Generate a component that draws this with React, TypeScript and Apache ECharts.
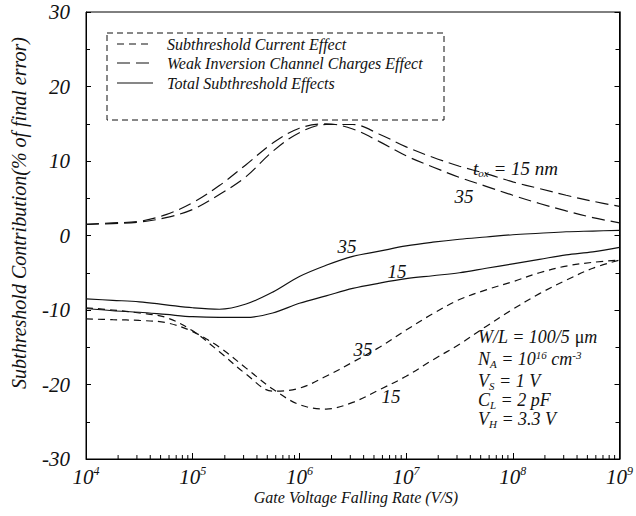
import { useEffect, useRef } from 'react';
import * as echarts from 'echarts';

// x positions (exponent of gate voltage falling rate, V/S)
const rateExponents = [4, 4.25, 4.5, 4.75, 5, 5.25, 5.5, 5.75, 6, 6.25, 6.5, 6.75, 7, 7.25, 7.5, 7.75, 8, 8.25, 8.5, 8.75, 9];

// Weak inversion channel charges effect (long dash)
const weakInv15 = [1.5, 1.6, 1.8, 2.4, 3.5, 5.5, 7.9, 11.3, 13.8, 14.9, 14.9, 13.6, 11.9, 10.5, 9.3, 8.3, 7.2, 6.3, 5.4, 4.6, 3.9];
const weakInv35 = [1.5, 1.7, 1.9, 2.8, 4.4, 6.7, 9.5, 12.4, 14.4, 15.0, 14.3, 12.6, 10.7, 9.2, 7.8, 6.6, 5.4, 4.3, 3.3, 2.4, 1.7];

// Subthreshold current effect (short dash)
const subCur15 = [-11.2, -11.3, -11.4, -11.7, -12.9, -15.0, -17.8, -20.6, -22.7, -23.3, -22.4, -20.7, -18.9, -16.7, -14.6, -12.2, -9.9, -7.8, -6.0, -4.4, -3.3];
const subCur35 = [-9.7, -10.0, -10.4, -11.0, -12.8, -15.6, -18.6, -20.9, -20.5, -18.9, -17.0, -15.0, -12.7, -10.5, -8.6, -7.3, -6.2, -5.0, -4.1, -3.6, -3.3];

// Total subthreshold effects (solid)
const total15 = [-9.8, -10.1, -10.3, -10.6, -10.9, -11.0, -11.0, -10.4, -9.1, -8.1, -7.1, -6.4, -5.8, -5.4, -5.0, -4.4, -3.8, -3.2, -2.6, -2.2, -1.6];
const total35 = [-8.5, -8.7, -8.9, -9.3, -9.7, -9.9, -9.2, -7.6, -5.5, -4.0, -2.8, -2.1, -1.4, -0.9, -0.5, -0.2, 0.1, 0.3, 0.5, 0.6, 0.7];

const xDecades = [4, 5, 6, 7, 8];
const minorMultipliers = [2, 3, 4, 5, 6, 7, 8, 9];
const yMin = -30;
const yMax = 30;
const yStep = 10;

const FONT = "'Liberation Serif', 'Times New Roman', serif";
const INK = '#111';

const SHORT_DASH = [7, 5];
const LONG_DASH = [13, 6];

export default function App() {
  const ref = useRef<HTMLDivElement>(null);

  useEffect(() => {
    if (!ref.current) return;
    const chart = echarts.init(ref.current, null, { renderer: 'svg' });
    const rates = rateExponents.map((e) => Math.pow(10, e));
    const mk = (name: string, ys: number[], dash: any) => ({
      name,
      type: 'line',
      data: rates.map((r, i) => [r, ys[i]]),
      smooth: 0.35,
      showSymbol: false,
      symbol: 'none',
      lineStyle: { color: INK, width: 1.2, type: dash },
      z: 3,
      silent: true,
    });
    const minorTicks: number[][] = [];
    xDecades.forEach((d) => minorMultipliers.forEach((m) => minorTicks.push([m * Math.pow(10, d), yMin])));

    const it = (size: number) => ({ fontFamily: FONT, fontStyle: 'italic', fontSize: size, color: INK });
    const richBase = (fs: number) => ({
      i: { ...it(fs), lineHeight: 17, verticalAlign: 'top' },
      r: { fontFamily: FONT, fontSize: fs, color: INK, lineHeight: 17, verticalAlign: 'top' },
      sub: { ...it(11), lineHeight: 11, verticalAlign: 'top', padding: [9, 0, 0, 0] },
      sup: { ...it(11), lineHeight: 10, verticalAlign: 'top' },
    });
    const label = (x: number, y: number, text: string, align = 'center', fs = 19) => ({
      type: 'text',
      x,
      y,
      style: { text, ...it(fs), lineHeight: 17, align, verticalAlign: 'middle', fill: INK, rich: richBase(fs) },
      silent: true,
    });
    const legendRows = [
      { y: 44, dash: SHORT_DASH, text: 'Subthreshold Current Effect' },
      { y: 63, dash: LONG_DASH, text: 'Weak Inversion Channel Charges Effect' },
      { y: 83, dash: null, text: 'Total Subthreshold Effects' },
    ];

    chart.setOption({
      animation: false,
      grid: { left: 86, right: 9, top: 12, bottom: 57, show: true, borderColor: '#000', borderWidth: 1, backgroundColor: 'transparent' },
      xAxis: {
        type: 'log',
        logBase: 10,
        min: 1e4,
        max: 1e9,
        axisLine: { show: true, onZero: false, lineStyle: { color: '#000', width: 1 } },
        axisTick: { show: true, inside: true, length: 6, lineStyle: { color: '#000' } },
        splitLine: { show: false },
        axisLabel: {
          margin: 6,
          formatter: (v: number) => `{b|10}{s|${Math.round(Math.log10(v))}}`,
          rich: {
            b: { ...it(21), lineHeight: 22, verticalAlign: 'bottom' },
            s: { ...it(12), lineHeight: 12, verticalAlign: 'top' },
          },
        },
      },
      yAxis: [
        {
          type: 'value',
          min: yMin,
          max: yMax,
          interval: yStep,
          axisLine: { show: true, lineStyle: { color: '#000', width: 1 } },
          axisTick: { show: true, inside: true, length: 5, lineStyle: { color: '#000' } },
          minorTick: { show: true, splitNumber: 2, length: 4, lineStyle: { color: '#000' } },
          splitLine: { show: false },
          axisLabel: { ...it(21), margin: 16 },
        },
        {
          type: 'value',
          position: 'right',
          min: yMin,
          max: yMax,
          interval: yStep,
          axisLine: { show: true, lineStyle: { color: '#000', width: 1.5 } },
          axisTick: { show: true, inside: true, length: 5, lineStyle: { color: '#000' } },
          minorTick: { show: true, splitNumber: 2, length: 4, lineStyle: { color: '#000' } },
          splitLine: { show: false },
          axisLabel: { show: false },
        },
      ],
      series: [
        mk('Subthreshold Current Effect (15 nm)', subCur15, SHORT_DASH),
        mk('Subthreshold Current Effect (35 nm)', subCur35, SHORT_DASH),
        mk('Weak Inversion Channel Charges Effect (15 nm)', weakInv15, LONG_DASH),
        mk('Weak Inversion Channel Charges Effect (35 nm)', weakInv35, LONG_DASH),
        mk('Total Subthreshold Effects (15 nm)', total15, 'solid'),
        mk('Total Subthreshold Effects (35 nm)', total35, 'solid'),
        {
          type: 'custom',
          silent: true,
          clip: false,
          data: minorTicks,
          z: 4,
          renderItem: (_p: any, api: any) => {
            const pt = api.coord([api.value(0), api.value(1)]);
            return {
              type: 'line',
              shape: { x1: pt[0], y1: pt[1], x2: pt[0], y2: pt[1] - 4 },
              style: { stroke: '#000', lineWidth: 1 },
            };
          },
        },
      ],
      graphic: [
        // legend box
        {
          type: 'rect',
          shape: { x: 107, y: 33, width: 337, height: 87 },
          style: { fill: '#fff', stroke: INK, lineWidth: 1, lineDash: [6, 4] },
          z: 10,
          silent: true,
        },
        ...legendRows.flatMap((r) => [
          {
            type: 'line',
            shape: { x1: 117, y1: r.y, x2: 153, y2: r.y },
            style: { stroke: INK, lineWidth: 1.2, lineDash: r.dash || undefined },
            z: 11,
            silent: true,
          },
          {
            type: 'text',
            x: 167,
            y: r.y,
            style: { text: r.text, ...it(16), verticalAlign: 'middle', fill: INK },
            z: 11,
            silent: true,
          },
        ]),
        // axis titles
        {
          type: 'text',
          x: 356,
          y: 497,
          style: { text: 'Gate Voltage Falling Rate (V/S)', ...it(16), align: 'center', verticalAlign: 'middle', fill: INK },
          silent: true,
        },
        {
          type: 'text',
          x: 19,
          y: 213,
          rotation: Math.PI / 2,
          style: { text: 'Subthreshold Contribution(% of final error)', ...it(20), align: 'center', verticalAlign: 'middle', fill: INK },
          silent: true,
        },
        // curve labels
        label(347, 246, '35'),
        label(397, 271, '15'),
        label(363, 349, '35'),
        label(391, 396, '15'),
        label(473, 167, '{i|t}{sub|ox}{i| = 15 nm}', 'left'),
        label(464, 196, '35'),
        // parameter block
        label(478, 336, '{i|W/L = 100/5 }{r|μ}{i|m}', 'left', 18),
        label(478, 358, '{i|N}{sub|A}{i| = 10}{sup|16}{i| cm}{sup|-3}', 'left', 18),
        label(478, 380, '{i|V}{sub|S}{i| = 1 V}', 'left', 18),
        label(478, 399, '{i|C}{sub|L}{i| = 2 pF}', 'left', 18),
        label(478, 418, '{i|V}{sub|H}{i| = 3.3 V}', 'left', 18),
      ],
    });
    return () => chart.dispose();
  }, []);

  return <div ref={ref} style={{ position: 'fixed', left: 0, top: 0, width: 636, height: 516, background: '#fff' }} />;
}
